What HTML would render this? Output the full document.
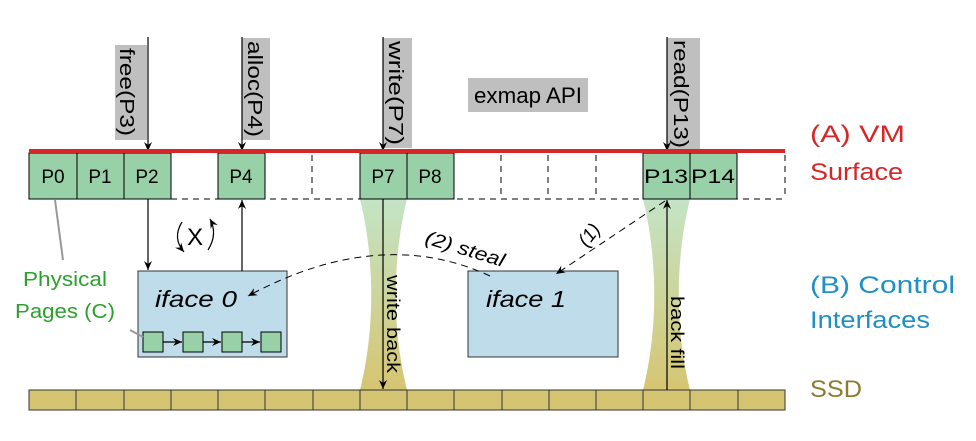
<!DOCTYPE html>
<html><head><meta charset="utf-8"><style>
html,body{margin:0;padding:0;background:#fff;}
svg{display:block;font-family:"Liberation Sans","DejaVu Sans",sans-serif;}
</style></head><body>
<svg width="976" height="441" viewBox="0 0 976 441" xmlns="http://www.w3.org/2000/svg">
<defs>
<linearGradient id="g" x1="0" y1="0" x2="0" y2="1">
<stop offset="0" stop-color="#c4e4c6"/><stop offset="1" stop-color="#d6c572"/>
</linearGradient>
<marker id="a" markerWidth="10" markerHeight="10" refX="9" refY="5" orient="auto" markerUnits="userSpaceOnUse">
<path d="M0,1 L9,5 L0,9 L3,5 Z" fill="#000"/></marker>
</defs>
<path d="M360,199 L407,199 C392,260 392,330 407,390 L360,390 C375,330 375,260 360,199 Z" fill="url(#g)"/>
<path d="M643,199 L690,199 C675,260 675,330 690,390 L643,390 C658,330 658,260 643,199 Z" fill="url(#g)"/>
<rect x="115" y="45" width="32" height="95" fill="#bfbfbf"/>
<text transform="translate(120,48) rotate(90)" font-size="20" textLength="88" lengthAdjust="spacingAndGlyphs">free(P3)</text>
<rect x="242" y="38" width="28" height="102" fill="#bfbfbf"/>
<text transform="translate(248,41) rotate(90)" font-size="20" textLength="96" lengthAdjust="spacingAndGlyphs">alloc(P4)</text>
<rect x="383" y="38" width="29" height="110" fill="#bfbfbf"/>
<text transform="translate(389,41) rotate(90)" font-size="20" textLength="104" lengthAdjust="spacingAndGlyphs">write(P7)</text>
<rect x="667" y="38" width="33" height="112" fill="#bfbfbf"/>
<text transform="translate(674,40) rotate(90)" font-size="20" textLength="108" lengthAdjust="spacingAndGlyphs">read(P13)</text>
<rect x="468" y="78" width="120" height="34" fill="#bfbfbf"/>
<text x="474" y="103" font-size="22" textLength="108" lengthAdjust="spacingAndGlyphs">exmap API</text>
<line x1="148" y1="37" x2="148" y2="151" stroke="#000" stroke-width="1.2" marker-end="url(#a)"/>
<line x1="242" y1="37" x2="242" y2="151" stroke="#000" stroke-width="1.2" marker-end="url(#a)"/>
<line x1="383" y1="37" x2="383" y2="151" stroke="#000" stroke-width="1.2" marker-end="url(#a)"/>
<line x1="667" y1="37" x2="667" y2="151" stroke="#000" stroke-width="1.2" marker-end="url(#a)"/>
<g stroke="#000" stroke-width="1">
<rect x="29" y="153" width="142" height="46" fill="#98d1a7"/>
<line x1="77" y1="153" x2="77" y2="199"/><line x1="124" y1="153" x2="124" y2="199"/>
<rect x="218" y="153" width="47" height="46" fill="#98d1a7"/>
<rect x="360" y="153" width="94" height="46" fill="#98d1a7"/>
<line x1="407" y1="153" x2="407" y2="199"/>
<rect x="643" y="153" width="94" height="46" fill="#98d1a7"/>
<line x1="690" y1="153" x2="690" y2="199"/>
<g stroke-dasharray="6,5">
<line x1="171" y1="199" x2="785" y2="199"/>
<line x1="312" y1="155" x2="312" y2="199"/>
<line x1="501" y1="155" x2="501" y2="199"/>
<line x1="548" y1="155" x2="548" y2="199"/>
<line x1="596" y1="155" x2="596" y2="199"/>
<line x1="785" y1="155" x2="785" y2="199"/>
<line x1="171" y1="155" x2="171" y2="199"/>
<line x1="265" y1="155" x2="265" y2="199"/>
<line x1="454" y1="155" x2="454" y2="199"/>
<line x1="737" y1="155" x2="737" y2="199"/>
</g>
</g>
<rect x="29" y="149" width="756" height="4" fill="#d62728"/>
<g font-size="19" text-anchor="middle">
<text x="53" y="183">P0</text><text x="100" y="183">P1</text><text x="147" y="183">P2</text>
<text x="241" y="183">P4</text><text x="383" y="183">P7</text><text x="430" y="183">P8</text>
<text x="666" y="183" textLength="44" lengthAdjust="spacingAndGlyphs">P13</text><text x="713" y="183" textLength="44" lengthAdjust="spacingAndGlyphs">P14</text>
</g>
<rect x="29" y="390" width="756" height="20" fill="#d5c471" stroke="#333" stroke-width="1"/>
<g stroke="#333" stroke-width="1">
<line x1="76" y1="390" x2="76" y2="410"/><line x1="124" y1="390" x2="124" y2="410"/><line x1="171" y1="390" x2="171" y2="410"/><line x1="218" y1="390" x2="218" y2="410"/><line x1="265" y1="390" x2="265" y2="410"/><line x1="313" y1="390" x2="313" y2="410"/><line x1="360" y1="390" x2="360" y2="410"/><line x1="407" y1="390" x2="407" y2="410"/><line x1="454" y1="390" x2="454" y2="410"/><line x1="502" y1="390" x2="502" y2="410"/><line x1="549" y1="390" x2="549" y2="410"/><line x1="596" y1="390" x2="596" y2="410"/><line x1="643" y1="390" x2="643" y2="410"/><line x1="690" y1="390" x2="690" y2="410"/><line x1="738" y1="390" x2="738" y2="410"/>
</g>
<rect x="138" y="271" width="149" height="86" fill="#bedcea" stroke="#333" stroke-width="1"/>
<rect x="468" y="271" width="150" height="86" fill="#bedcea" stroke="#333" stroke-width="1"/>
<text x="155" y="307" font-size="23" font-style="italic" textLength="82" lengthAdjust="spacingAndGlyphs">iface 0</text>
<text x="486" y="307" font-size="23" font-style="italic" textLength="80" lengthAdjust="spacingAndGlyphs">iface 1</text>
<g fill="#98d1a7" stroke="#000" stroke-width="1">
<rect x="143" y="332" width="20" height="20"/><rect x="183" y="332" width="20" height="20"/>
<rect x="222" y="332" width="20" height="20"/><rect x="261" y="332" width="20" height="20"/>
</g>
<g stroke="#000" stroke-width="1.2">
<line x1="163" y1="342" x2="182" y2="342" marker-end="url(#a)"/>
<line x1="203" y1="342" x2="221" y2="342" marker-end="url(#a)"/>
<line x1="242" y1="342" x2="260" y2="342" marker-end="url(#a)"/>
</g>
<g stroke="#000" stroke-width="1.2" fill="none">
<line x1="148" y1="199" x2="148" y2="270" marker-end="url(#a)"/>
<line x1="242" y1="271" x2="242" y2="200" marker-end="url(#a)"/>
<line x1="383" y1="199" x2="383" y2="389" marker-end="url(#a)"/>
<line x1="667" y1="390" x2="667" y2="200" marker-end="url(#a)"/>
<path d="M182,222 Q172,238 184,252" marker-end="url(#a)"/>
<path d="M208,250 Q218,234 210,219" marker-end="url(#a)"/>
</g>
<text x="195" y="245" font-size="24" text-anchor="middle">X</text>
<text transform="translate(387,275) rotate(90)" font-size="18" textLength="98" lengthAdjust="spacingAndGlyphs">write back</text>
<text transform="translate(671,296) rotate(90)" font-size="18" textLength="73" lengthAdjust="spacingAndGlyphs">back fill</text>
<g stroke="#000" stroke-width="1" fill="none" stroke-dasharray="7,5">
<path d="M490,276 Q380,225 248,296" marker-end="url(#a)"/>
<line x1="665" y1="201" x2="556" y2="274" marker-end="url(#a)"/>
</g>
<text transform="translate(424,243) rotate(17)" font-size="19" font-style="italic" textLength="82" lengthAdjust="spacingAndGlyphs">(2) steal</text>
<text transform="translate(587,248) rotate(-52)" font-size="19" font-style="italic">(1)</text>
<line x1="55" y1="200" x2="63" y2="260" stroke="#999" stroke-width="2"/>
<line x1="130" y1="330" x2="143" y2="337" stroke="#999" stroke-width="2"/>
<text x="65" y="286" font-size="20" fill="#2ca02c" text-anchor="middle" textLength="84" lengthAdjust="spacingAndGlyphs">Physical</text>
<text x="65" y="318" font-size="20" fill="#2ca02c" text-anchor="middle" textLength="100" lengthAdjust="spacingAndGlyphs">Pages (C)</text>
<text x="810" y="142" font-size="24" fill="#d62728" textLength="95" lengthAdjust="spacingAndGlyphs">(A) VM</text>
<text x="810" y="180" font-size="24" fill="#d62728" textLength="93" lengthAdjust="spacingAndGlyphs">Surface</text>
<text x="810" y="293" font-size="24" fill="#1f8fc4" textLength="145" lengthAdjust="spacingAndGlyphs">(B) Control</text>
<text x="810" y="328" font-size="24" fill="#1f8fc4" textLength="120" lengthAdjust="spacingAndGlyphs">Interfaces</text>
<text x="810" y="397" font-size="24" fill="#8c7c2e" textLength="52" lengthAdjust="spacingAndGlyphs">SSD</text>
</svg>
</body></html>
